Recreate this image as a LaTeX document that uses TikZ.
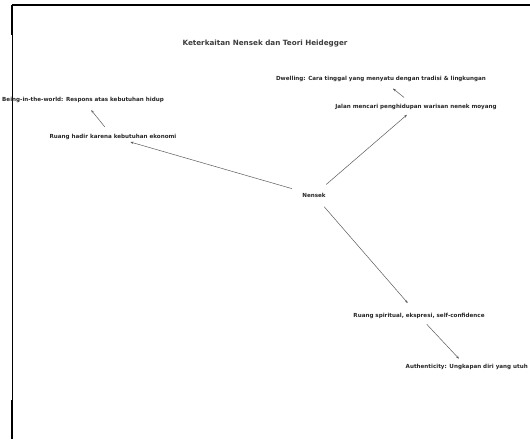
\documentclass[tikz,border=0pt]{standalone}
\usepackage{fontspec}
\setmainfont{DejaVu Sans}
\usepackage{tikz}
\usetikzlibrary{positioning,arrows.meta}
\definecolor{linegray}{RGB}{90,90,90}
\definecolor{titlegray}{RGB}{60,60,60}

\begin{document}
\begin{tikzpicture}[x=1pt, y=-1pt,
  lbl/.style={inner sep=1pt, font=\fontsize{5.6}{6}\selectfont\bfseries, text=black!85},
  arr/.style={-{Stealth[length=3pt, width=2.4pt]}, draw=linegray, line width=0.5pt, shorten <=11pt, shorten >=4pt}]
\useasboundingbox (0,0) rectangle (530,439);

% frame
\draw[line width=1.2pt] (12,5) -- (530,5);
\draw[line width=0.8pt] (12,5) -- (12,439);
\draw[line width=1.5pt] (12,5) -- (12,35);
\draw[line width=1.5pt] (12,400) -- (12,439);

\node[font=\fontsize{7.2}{8}\selectfont\bfseries, text=titlegray] (title) at (265,44) {Keterkaitan Nensek dan Teori Heidegger};

\node[lbl] (nensek) at (314,195) {Nensek};
\node[lbl] (hadir) at (113,137) {Ruang hadir karena kebutuhan ekonomi};
\node[lbl, anchor=west] (world) at (1,100) {Being-in-the-world: Respons atas kebutuhan hidup};
\node[lbl] (jalan) at (416,107) {Jalan mencari penghidupan warisan nenek moyang};
\node[lbl] (dwelling) at (381,79) {Dwelling: Cara tinggal yang menyatu dengan tradisi \& lingkungan};
\node[lbl] (spiritual) at (419,316) {Ruang spiritual, ekspresi, self-confidence};
\node[lbl, anchor=east] (auth) at (529,367) {Authenticity: Ungkapan diri yang utuh};

\draw[arr] (nensek) -- (hadir);
\draw[arr, shorten <=8pt, shorten >=8pt] (hadir) -- (world);
\draw[arr, shorten >=6pt] (nensek) -- (jalan);
\draw[arr, shorten <=9pt, shorten >=9pt] (jalan) -- (dwelling);
\draw[arr, shorten >=12pt] (nensek) -- (spiritual);
\draw[arr, shorten <=6pt, shorten >=6pt] (spiritual) -- (auth);
\end{tikzpicture}
\end{document}
